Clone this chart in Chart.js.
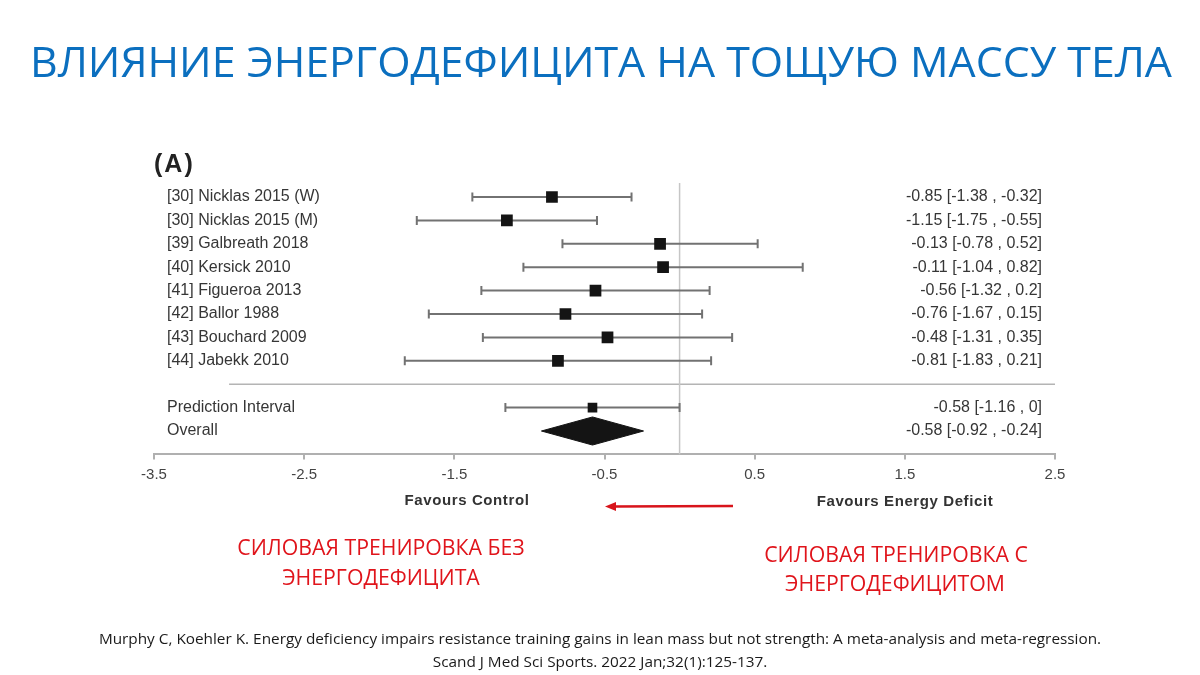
<!DOCTYPE html>
<html>
<head>
<meta charset="utf-8">
<title>Влияние энергодефицита на тощую массу тела</title>
<script src="https://cdn.jsdelivr.net/npm/chart.js@4/dist/chart.umd.min.js"></script>
<style>
    body { margin: 0; background: #fff; }
    #wrap { position: relative; width: 1200px; height: 675px; overflow: hidden; background: #fff; }
    #wrap canvas { position: absolute; left: 0; top: 0; }
    .t { position: absolute; white-space: nowrap; line-height: 1; }
    .c { transform: translate(-50%, -50%); }
    .l { transform: translateY(-50%); }
    .ru { font-family: "Open Sans", sans-serif; }
    .fig { font-family: "Liberation Sans", Arial, sans-serif; color: #333; }
    .red { color: #e0141b; font-size: 22px; }
    #arrow { position: absolute; left: 0; top: 0; }
</style>
</head>
<body>
<div id="wrap">
    <canvas id="forest" width="1200" height="675"></canvas>
    <div id="title" class="t c ru" style="left:601px; top:61px; color:#0b6fbf; font-size:44px;">ВЛИЯНИЕ ЭНЕРГОДЕФИЦИТА НА ТОЩУЮ МАССУ ТЕЛА</div>
    <div class="t l fig" style="left:154px; top:163px; font-size:25px; font-weight:bold; letter-spacing:2px; color:#222;">(A)</div>
    <div class="t c fig" style="left:467px; top:499px; font-size:15px; font-weight:bold; letter-spacing:0.6px;">Favours Control</div>
    <div class="t c fig" style="left:905px; top:500px; font-size:15px; font-weight:bold; letter-spacing:0.6px;">Favours Energy Deficit</div>
    <svg id="arrow" width="1200" height="675">
        <line x1="733" y1="506" x2="614" y2="506.5" stroke="#d8141b" stroke-width="2.5"/>
        <polygon points="605,506.5 616,502 616,511" fill="#d8141b"/>
    </svg>
    <div id="red1a" class="t c ru red" style="left:381px; top:547px;">СИЛОВАЯ ТРЕНИРОВКА БЕЗ</div>
    <div id="red1b" class="t c ru red" style="left:381px; top:577px;">ЭНЕРГОДЕФИЦИТА</div>
    <div id="red2a" class="t c ru red" style="left:896px; top:554px;">СИЛОВАЯ ТРЕНИРОВКА С</div>
    <div id="red2b" class="t c ru red" style="left:895px; top:583px;">ЭНЕРГОДЕФИЦИТОМ</div>
    <div id="cite1" class="t c ru" style="left:600px; top:639px; color:#1a1a1a; font-size:14px;">Murphy C, Koehler K. Energy deficiency impairs resistance training gains in lean mass but not strength: A meta-analysis and meta-regression.</div>
    <div id="cite2" class="t c ru" style="left:600px; top:662px; color:#1a1a1a; font-size:14px;">Scand J Med Sci Sports. 2022 Jan;32(1):125-137.</div>
</div>
<script>
// Forest plot data
const studyLabels = [
    '[30] Nicklas 2015 (W)',
    '[30] Nicklas 2015 (M)',
    '[39] Galbreath 2018',
    '[40] Kersick 2010',
    '[41] Figueroa 2013',
    '[42] Ballor 1988',
    '[43] Bouchard 2009',
    '[44] Jabekk 2010'
];
const studyEst = [-0.85, -1.15, -0.13, -0.11, -0.56, -0.76, -0.48, -0.81];
const studyLow = [-1.38, -1.75, -0.78, -1.04, -1.32, -1.67, -1.31, -1.83];
const studyHigh = [-0.32, -0.55, 0.52, 0.82, 0.2, 0.15, 0.35, 0.21];

const predLabel = 'Prediction Interval';
const predValues = [-0.58, -1.16, 0];      // estimate, lower, upper
const overallLabel = 'Overall';
const overallValues = [-0.58, -0.92, -0.24];

const xTicks = [-3.5, -2.5, -1.5, -0.5, 0.5, 1.5, 2.5];

// row layout on the y scale
const studyRows = studyLabels.map((_, i) => i + 1);
const sepRow = 9;
const predRow = 10;
const overallRow = 11;
const allRows = studyRows.concat([predRow, overallRow]);

const fmt = (e, lo, hi) => `${e} [${lo} , ${hi}]`;

const leftText = {};
const rightText = {};
studyRows.forEach((r, i) => {
    leftText[r] = studyLabels[i];
    rightText[r] = fmt(studyEst[i], studyLow[i], studyHigh[i]);
});
leftText[predRow] = predLabel;
rightText[predRow] = fmt(predValues[0], predValues[1], predValues[2]);
leftText[overallRow] = overallLabel;
rightText[overallRow] = fmt(overallValues[0], overallValues[1], overallValues[2]);

const barGray = '#727272';
const inkDark = '#141414';
const labelFont = { family: '"Liberation Sans", Arial, sans-serif', size: 16 };

function errorBar(row, lo, hi) {
    return {
        data: [{ x: lo, y: row }, { x: hi, y: row }],
        borderColor: barGray,
        borderWidth: 2,
        pointStyle: 'line',
        pointRotation: 90,
        pointRadius: 4.5,
        pointBorderWidth: 2,
        pointBorderColor: barGray,
        order: 3
    };
}

const datasets = [
    // studies' point estimates
    {
        data: studyEst.map((x, i) => ({ x: x, y: studyRows[i] })),
        showLine: false,
        pointStyle: 'rect',
        pointRadius: 8.3,
        pointBackgroundColor: inkDark,
        pointBorderColor: inkDark,
        pointBorderWidth: 0,
        order: 0
    },
    // prediction interval estimate
    {
        data: [{ x: predValues[0], y: predRow }],
        showLine: false,
        pointStyle: 'rect',
        pointRadius: 6.8,
        pointBackgroundColor: inkDark,
        pointBorderColor: inkDark,
        pointBorderWidth: 0,
        order: 0
    },
    // overall diamond: upper half filled down to lower half
    {
        data: [
            { x: overallValues[1], y: overallRow },
            { x: overallValues[0], y: overallRow - 0.6 },
            { x: overallValues[2], y: overallRow }
        ],
        borderColor: inkDark,
        borderWidth: 1,
        backgroundColor: inkDark,
        pointRadius: 0,
        fill: '+1',
        order: 1
    },
    {
        data: [
            { x: overallValues[1], y: overallRow },
            { x: overallValues[0], y: overallRow + 0.6 },
            { x: overallValues[2], y: overallRow }
        ],
        borderColor: inkDark,
        borderWidth: 1,
        pointRadius: 0,
        fill: false,
        order: 1
    },
    // line of no effect
    {
        data: [{ x: 0, y: 0.4 }, { x: 0, y: 12 }],
        borderColor: '#c6c6c6',
        borderWidth: 1.5,
        pointRadius: 0,
        order: 9
    },
    // separator above the summary rows
    {
        data: [{ x: -3.0, y: sepRow }, { x: 2.5, y: sepRow }],
        borderColor: '#b4b4b4',
        borderWidth: 1.5,
        pointRadius: 0,
        order: 9
    }
];

studyRows.forEach((r, i) => datasets.push(errorBar(r, studyLow[i], studyHigh[i])));
datasets.push(errorBar(predRow, predValues[1], predValues[2]));

function rowScale(position, texts, pad) {
    return {
        type: 'linear',
        position: position,
        reverse: true,
        min: 0,
        max: 12,
        afterBuildTicks: s => { s.ticks = allRows.map(v => ({ value: v })); },
        afterFit: s => { s.width = 0; },
        ticks: {
            mirror: true,
            padding: pad,
            autoSkip: false,
            font: labelFont,
            color: '#363636',
            callback: v => texts[v] || ''
        },
        grid: { display: false },
        border: { display: false }
    };
}

new Chart(document.getElementById('forest').getContext('2d'), {
    type: 'line',
    data: { datasets: datasets },
    options: {
        responsive: false,
        animation: false,
        devicePixelRatio: 1,
        layout: { padding: { left: 154, right: 145, top: 173.6, bottom: 180.6 } },
        plugins: {
            legend: { display: false },
            tooltip: { enabled: false }
        },
        scales: {
            x: {
                type: 'linear',
                min: -3.5,
                max: 2.5,
                afterBuildTicks: s => { s.ticks = xTicks.map(v => ({ value: v })); },
                afterFit: s => { s.height = 40; },
                ticks: {
                    autoSkip: false,
                    maxRotation: 0,
                    padding: 6,
                    font: { family: '"Liberation Sans", Arial, sans-serif', size: 15 },
                    color: '#444',
                    callback: v => String(v)
                },
                grid: { drawOnChartArea: false, tickLength: 5, color: '#b0b0b0', lineWidth: 2 },
                border: { color: '#b0b0b0', width: 2 }
            },
            y: rowScale('left', leftText, 13),
            y2: rowScale('right', rightText, -13)
        }
    }
});

// size the slide texts to the widths in the original
function fitWidth(id, target) {
    const el = document.getElementById(id);
    const size = parseFloat(getComputedStyle(el).fontSize);
    const newSize = size * target / el.offsetWidth;
    el.style.fontSize = newSize + 'px';
    return newSize;
}
fitWidth('title', 1142);
const redSize = fitWidth('red1a', 288);
['red1b', 'red2a', 'red2b'].forEach(id => { document.getElementById(id).style.fontSize = redSize + 'px'; });
const citeSize = fitWidth('cite1', 1002);
document.getElementById('cite2').style.fontSize = citeSize + 'px';
</script>
</body>
</html>
